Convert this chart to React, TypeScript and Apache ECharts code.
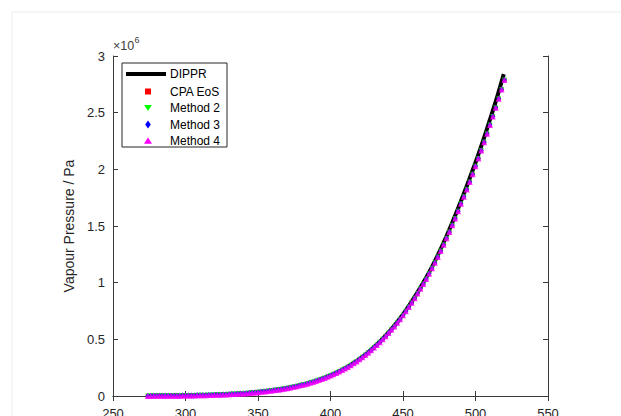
import React, { useEffect, useRef } from "react";
import * as echarts from "echarts";

// Temperature (K) and vapour pressure (units of 10^6 Pa)
const dipprT = [273, 280, 290, 300, 310, 320, 330, 340, 350, 360, 370, 380, 390, 400, 410, 420, 430, 440, 450, 460, 470, 480, 490, 500, 505, 510, 515, 519.5];
const dipprP = [0.0009, 0.0014, 0.0024, 0.004, 0.0064, 0.01, 0.0155, 0.023, 0.034, 0.049, 0.069, 0.096, 0.132, 0.18, 0.243, 0.325, 0.43, 0.56, 0.72, 0.915, 1.14, 1.41, 1.72, 2.06, 2.244, 2.44, 2.642, 2.84];

const modelT = [
  274, 276, 278, 280, 282, 284, 286, 288, 290, 292, 294, 296, 298, 300, 302, 304, 306, 308, 310, 312,
  314, 316, 318, 320, 322, 324, 326, 328, 330, 332, 334, 336, 338, 340, 342, 344, 346, 348, 350, 352,
  354, 356, 358, 360, 362, 364, 366, 368, 370, 372, 374, 376, 378, 380, 382, 384, 386, 388, 390, 392,
  394, 396, 398, 400, 402, 404, 406, 408, 410, 412, 414, 416, 418, 420, 422, 424, 426, 428, 430, 432,
  434, 436, 438, 440, 442, 444, 446, 448, 450, 452, 454, 456, 458, 460, 462, 464, 466, 468, 470, 472,
  474, 476, 478, 480, 482, 484, 486, 488, 490, 492, 494, 496, 498, 500, 502, 504, 506, 508, 510, 512,
  514, 516, 518, 520,
];
const modelP = [
  0.001, 0.0011, 0.0012, 0.0014, 0.0016, 0.0017, 0.0019, 0.0022, 0.0024, 0.0027, 0.003, 0.0033, 0.0036, 0.004, 0.0044, 0.0049, 0.0053, 0.0059, 0.0064, 0.0071,
  0.0077, 0.0084, 0.0092, 0.01, 0.0109, 0.0119, 0.013, 0.0142, 0.0155, 0.0168, 0.0182, 0.0197, 0.0213, 0.023, 0.0249, 0.0268, 0.029, 0.0314, 0.034, 0.0366,
  0.0394, 0.0423, 0.0455, 0.049, 0.0525, 0.0562, 0.0602, 0.0644, 0.069, 0.0737, 0.0787, 0.0841, 0.0899, 0.096, 0.1023, 0.1091, 0.1162, 0.1239, 0.132, 0.1404,
  0.1494, 0.159, 0.1691, 0.18, 0.191, 0.2027, 0.2152, 0.2284, 0.2425, 0.2569, 0.2722, 0.2885, 0.3055, 0.3237, 0.3422, 0.3618, 0.3826, 0.4043, 0.4274, 0.4504,
  0.4747, 0.5003, 0.5272, 0.5555, 0.5839, 0.6138, 0.6453, 0.6783, 0.7128, 0.7476, 0.7842, 0.8226, 0.8628, 0.9049, 0.9455, 0.988, 1.0324, 1.0788, 1.1263, 1.175,
  1.2258, 1.2789, 1.3343, 1.3917, 1.4477, 1.5063, 1.5672, 1.6304, 1.6959, 1.7574, 1.8215, 1.888, 1.9568, 2.027, 2.0951, 2.1654, 2.2382, 2.3132, 2.3912, 2.4659,
  2.543, 2.6224, 2.7042, 2.7885,
];

const legendNames = ["DIPPR", "CPA EoS", "Method 2", "Method 3", "Method 4"];
const xTicks = { min: 250, max: 550, interval: 50 };
const yTicks = { min: 0, max: 3, interval: 0.5 };

const FONT = "'Liberation Sans', Arial, Helvetica, sans-serif";
const AXIS = "#3a3a3a";

export default function App() {
  const ref = useRef<HTMLDivElement>(null);
  useEffect(() => {
    if (!ref.current) return;
    const chart = echarts.init(ref.current, undefined, { renderer: "svg" });
    const dippr = dipprT.map((t, i) => [t, dipprP[i]]);
    const model = modelT.map((t, i) => [t, modelP[i]]);

    const axisCommon = {
      type: "value" as const,
      splitLine: { show: false },
      axisLine: { show: true, lineStyle: { color: AXIS, width: 1 } },
      axisTick: { show: true, inside: true, length: 5, lineStyle: { color: AXIS, width: 1 } },
    };

    const lx = 122, ly = 63;
    const rows = [74, 91.5, 108, 124.5, 140.5];
    const mx = 148;

    chart.setOption({
      animation: false,
      backgroundColor: "#ffffff",
      grid: { left: 113, top: 56, width: 435, height: 340, containLabel: false, outerBoundsMode: "none" },
      xAxis: [
        {
          ...axisCommon,
          position: "bottom",
          min: xTicks.min,
          max: xTicks.max,
          interval: xTicks.interval,
          axisLabel: { color: "#262626", fontSize: 13, margin: 11, fontFamily: FONT },
        },
        {
          ...axisCommon,
          position: "top",
          min: xTicks.min,
          max: xTicks.max,
          interval: xTicks.interval,
          axisLabel: { show: false },
        },
      ],
      yAxis: [
        {
          ...axisCommon,
          position: "left",
          min: yTicks.min,
          max: yTicks.max,
          interval: yTicks.interval,
          name: "Vapour Pressure / Pa",
          nameLocation: "middle",
          nameGap: 31,
          nameTextStyle: { color: "#262626", fontSize: 14, fontFamily: FONT },
          axisLabel: { color: "#262626", fontSize: 13, margin: 8, fontFamily: FONT },
        },
        {
          ...axisCommon,
          position: "right",
          min: yTicks.min,
          max: yTicks.max,
          interval: yTicks.interval,
          axisLabel: { show: false },
        },
      ],
      series: [
        {
          name: legendNames[0],
          type: "line",
          data: dippr,
          showSymbol: false,
          smooth: 0.3,
          lineStyle: { color: "#000000", width: 4 },
          z: 2,
        },
        {
          name: legendNames[1],
          type: "scatter",
          data: model,
          symbol: "rect",
          symbolSize: 4,
          itemStyle: { color: "#ff0000" },
          z: 3,
        },
        {
          name: legendNames[2],
          type: "scatter",
          data: model,
          symbol: "triangle",
          symbolRotate: 180,
          symbolSize: 5,
          itemStyle: { color: "#00ff00" },
          z: 4,
        },
        {
          name: legendNames[3],
          type: "scatter",
          data: model,
          symbol: "diamond",
          symbolSize: [5, 6],
          itemStyle: { color: "#0000ff" },
          z: 5,
        },
        {
          name: legendNames[4],
          type: "scatter",
          data: model,
          symbol: "triangle",
          symbolSize: 6,
          itemStyle: { color: "#ff00ff" },
          z: 6,
        },
      ],
      graphic: [
        {
          type: "rect",
          shape: { x: 12, y: 12, width: 640, height: 440 },
          style: { fill: "none", stroke: "#ececec", lineWidth: 1 },
          silent: true,
          z: 0,
        },
        {
          type: "text",
          x: 113,
          y: 39.5,
          style: { text: "×10", fontSize: 12.5, fontFamily: FONT, fill: "#404040" },
          z: 100,
        },
        {
          type: "text",
          x: 134.5,
          y: 35.5,
          style: { text: "6", fontSize: 9, fontFamily: FONT, fill: "#404040" },
          z: 100,
        },
        {
          type: "rect",
          shape: { x: lx, y: ly, width: 105, height: 84 },
          style: { fill: "#ffffff", stroke: "#262626", lineWidth: 1 },
          z: 100,
        },
        {
          type: "line",
          shape: { x1: 126, y1: rows[0], x2: 166, y2: rows[0] },
          style: { stroke: "#000000", lineWidth: 4 },
          z: 101,
        },
        {
          type: "rect",
          shape: { x: mx - 3, y: rows[1] - 3, width: 6, height: 6 },
          style: { fill: "#ff0000" },
          z: 101,
        },
        {
          type: "polygon",
          shape: { points: [[mx - 3.8, rows[2] - 3], [mx + 3.8, rows[2] - 3], [mx, rows[2] + 3]] },
          style: { fill: "#00ff00" },
          z: 101,
        },
        {
          type: "polygon",
          shape: { points: [[mx, rows[3] - 4], [mx + 2.8, rows[3]], [mx, rows[3] + 4], [mx - 2.8, rows[3]]] },
          style: { fill: "#0000ff" },
          z: 101,
        },
        {
          type: "polygon",
          shape: { points: [[mx - 4, rows[4] + 3.2], [mx + 4, rows[4] + 3.2], [mx, rows[4] - 3.2]] },
          style: { fill: "#ff00ff" },
          z: 101,
        },
        ...legendNames.map((n, i) => ({
          type: "text",
          x: 170,
          y: rows[i],
          style: { text: n, fontSize: 12, fontFamily: FONT, fill: "#000000", verticalAlign: "middle" },
          z: 101,
        })),
      ],
    });
    return () => chart.dispose();
  }, []);
  return (
    <div
      ref={ref}
      style={{ position: "absolute", left: 0, top: 0, width: 621, height: 416, background: "#fff" }}
    />
  );
}
